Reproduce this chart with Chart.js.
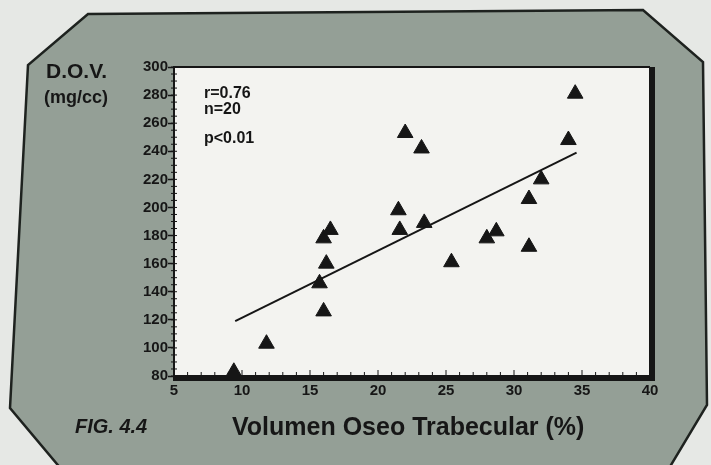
<!DOCTYPE html>
<html>
<head>
<meta charset="utf-8">
<script src="https://cdn.jsdelivr.net/npm/chart.js@4/dist/chart.umd.min.js"></script>
<style>
  html, body { margin: 0; padding: 0; background: #e6e8e5; }
  #wrap { width: 711px; height: 465px; position: relative; }
</style>
</head>
<body>
<div id="wrap"><canvas id="myChart" width="711" height="465"></canvas></div>
<script>
  // volumen oseo trabecular (%) vs D.O.V. (mg/cc)
  const volumen = [9.4, 11.8, 16.0, 15.7, 16.2, 16.0, 16.5, 21.5, 21.6, 22.0,
                   23.2, 23.4, 25.4, 28.0, 28.7, 31.1, 31.1, 32.0, 34.0, 34.5];
  const dov     = [83, 103, 126, 146, 160, 178, 184, 198, 184, 253,
                   242, 189, 161, 178, 183, 172, 206, 220, 248, 281];
  const fitX = [9.5, 34.6];
  const fitY = [119, 239];
  const notes = ['r=0.76', 'n=20', 'p<0.01'];

  const points = volumen.map((v, i) => ({ x: v, y: dov[i] }));
  const fit = fitX.map((v, i) => ({ x: v, y: fitY[i] }));

  const ink = '#161616';

  const paper = {
    id: 'paper',
    beforeDraw(chart) {
      const c = chart.ctx, a = chart.chartArea;
      c.save();
      c.beginPath();
      c.moveTo(88, 14); c.lineTo(643, 10); c.lineTo(703, 62); c.lineTo(707, 405);
      c.lineTo(668, 470); c.lineTo(62, 470); c.lineTo(10, 408); c.lineTo(28, 65);
      c.closePath();
      c.fillStyle = '#949f96';
      c.fill();
      c.lineWidth = 2.5;
      c.strokeStyle = '#1e221f';
      c.stroke();
      c.fillStyle = '#f3f3f0';
      c.fillRect(a.left, a.top, a.right - a.left, a.bottom - a.top);
      c.restore();
    },
    afterDraw(chart) {
      const c = chart.ctx, a = chart.chartArea;
      const xs = chart.scales.x, ys = chart.scales.y;
      c.save();
      c.fillStyle = ink;
      // frame: thin top, heavy right and bottom
      c.fillRect(a.left, a.top - 1, a.right - a.left, 2);
      c.fillRect(a.right - 1, a.top, 6, a.bottom - a.top + 5);
      c.fillRect(a.left - 1, a.bottom - 1, a.right - a.left + 6, 6);
      // minor ticks
      c.lineWidth = 1;
      c.strokeStyle = ink;
      for (let v = 80; v <= 300; v += 5) {
        const y = ys.getPixelForValue(v);
        c.beginPath(); c.moveTo(a.left - 3, y); c.lineTo(a.left + 3, y); c.stroke();
      }
      for (let v = 5; v <= 40; v += 1) {
        const x = xs.getPixelForValue(v);
        const h = v % 5 === 0 ? 5 : 3;
        c.beginPath(); c.moveTo(x, a.bottom - 1); c.lineTo(x, a.bottom - 1 - h); c.stroke();
      }
      // texts
      c.fillStyle = ink;
      c.textBaseline = 'alphabetic';
      c.textAlign = 'left';
      c.font = 'bold 16px "Liberation Sans", Arial, sans-serif';
      c.fillText(notes[0], 204, 98);
      c.fillText(notes[1], 204, 114);
      c.fillText(notes[2], 204, 143);
      c.font = 'bold 21px "Liberation Sans", Arial, sans-serif';
      c.fillText('D.O.V.', 46, 78);
      c.font = 'bold 18px "Liberation Sans", Arial, sans-serif';
      c.fillText('(mg/cc)', 44, 103);
      c.font = 'italic bold 20px "Liberation Sans", Arial, sans-serif';
      c.fillText('FIG. 4.4', 75, 433);
      c.font = 'bold 25px "Liberation Sans", Arial, sans-serif';
      c.fillText('Volumen Oseo Trabecular (%)', 232, 435);
      c.restore();
    }
  };

  const ctx = document.getElementById('myChart').getContext('2d');
  new Chart(ctx, {
    type: 'scatter',
    data: {
      datasets: [{
        data: points,
        pointStyle: 'triangle',
        pointRadius: 9,
        pointHoverRadius: 9,
        backgroundColor: ink,
        borderColor: ink,
        borderWidth: 1,
        order: 1
      }, {
        type: 'line',
        data: fit,
        borderColor: ink,
        borderWidth: 2,
        pointRadius: 0,
        fill: false,
        order: 2
      }]
    },
    options: {
      responsive: false,
      animation: false,
      layout: {
        padding: { left: 129, top: 67, right: 61, bottom: 59 }
      },
      plugins: {
        legend: { display: false },
        tooltip: { enabled: false }
      },
      scales: {
        x: {
          type: 'linear',
          min: 5,
          max: 40,
          afterFit: s => { s.height = 30; },
          ticks: {
            stepSize: 5,
            color: ink,
            padding: 6,
            font: { family: '"Liberation Sans", Arial', size: 15, weight: 'bold' }
          },
          grid: { drawOnChartArea: false, drawTicks: false },
          border: { display: false }
        },
        y: {
          min: 80,
          max: 300,
          afterFit: s => { s.width = 45; },
          ticks: {
            stepSize: 20,
            color: ink,
            padding: 0,
            font: { family: '"Liberation Sans", Arial', size: 15, weight: 'bold' }
          },
          grid: { drawOnChartArea: false, drawTicks: true, tickLength: 6, color: ink, tickWidth: 1.5 },
          border: { display: true, color: ink, width: 2 }
        }
      }
    },
    plugins: [paper]
  });
</script>
</body>
</html>
